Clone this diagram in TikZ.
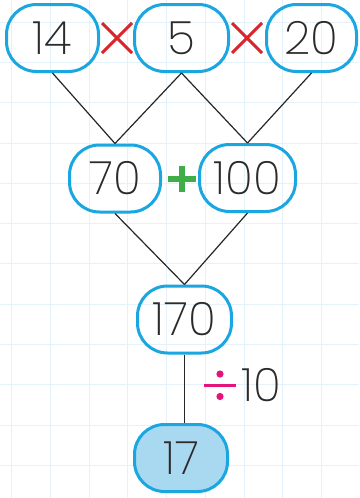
\documentclass[tikz,border=0pt]{standalone}
\usepackage{fontspec}
\setmainfont{Poppins}[UprightFont=* ExtraLight]
\definecolor{boxblue}{HTML}{1AA7E1}
\definecolor{fillblue}{HTML}{A9D9F1}
\definecolor{gridblue}{HTML}{E3F2FB}
\definecolor{opred}{HTML}{D9262E}
\definecolor{opgreen}{HTML}{3FAE49}
\definecolor{oppink}{HTML}{E4147C}
\definecolor{textgray}{HTML}{2B2B2B}
\begin{document}
\begin{tikzpicture}[x=1pt,y=-1pt,
  numbox/.style={draw=boxblue, line width=3pt, rounded corners=30pt,
    minimum height=67pt, inner sep=0pt,
    font=\fontsize{46}{46}\selectfont, text=textgray},
  numtext/.style={inner sep=0pt, font=\fontsize{46}{46}\selectfont, text=textgray},
  link/.style={line width=1.2pt, draw=black!85},
  gridline/.style={draw=gridblue, line width=1pt}]
\useasboundingbox (0,0) rectangle (359,498);
\fill[white] (0,0) rectangle (359,498);
% grid
\foreach \i in {0,...,9} \draw[gridline] ({11.7+38.75*\i},0) -- ({11.7+38.75*\i},498);
\foreach \j in {0,...,11} \draw[gridline] (0,{22.1+40.3*\j}) -- (359,{22.1+40.3*\j});
% nodes
\node[numbox, minimum width=92pt] (n14) at (52.5,38) {14};
\node[numbox, minimum width=94pt] (n5) at (181.5,38) {5};
\node[numbox, minimum width=90pt] (n20) at (311.5,38) {20};
\node[numbox, minimum width=91pt] (n70) at (115,178.5) {70};
\node[numbox, minimum width=96pt] (n100) at (247.5,178) {100};
\node[numbox, minimum width=94pt] (n170) at (184.5,319.5) {170};
\node[numbox, minimum width=93pt, fill=fillblue] (n17) at (181,458) {17};
\node[numtext] (ten) at (261,385.5) {10};
% connectors
\draw[link] (n14.south) -- (n70.north);
\draw[link] (n5.south) -- (n70.north);
\draw[link] (n5.south) -- (n100.north);
\draw[link] (n20.south) -- (n100.north);
\draw[link] (n70.south) -- (n170.north);
\draw[link] (n100.south) -- (n170.north);
\draw[link] (n170.south) -- (n170.south |- n17.north);
% operators
\foreach \cx in {117,247} {
  \draw[opred, line width=3pt] (\cx-15,23) -- (\cx+15,53);
  \draw[opred, line width=3pt] (\cx-15,53) -- (\cx+15,23);
}
\draw[opgreen, line width=6pt] (168,179) -- (196,179);
\draw[opgreen, line width=6pt] (182,166) -- (182,192);
\draw[oppink, line width=3pt] (204,385) -- (236,385);
\fill[oppink] (220,374) circle (3.6);
\fill[oppink] (220,396.5) circle (3.6);
\end{tikzpicture}
\end{document}
